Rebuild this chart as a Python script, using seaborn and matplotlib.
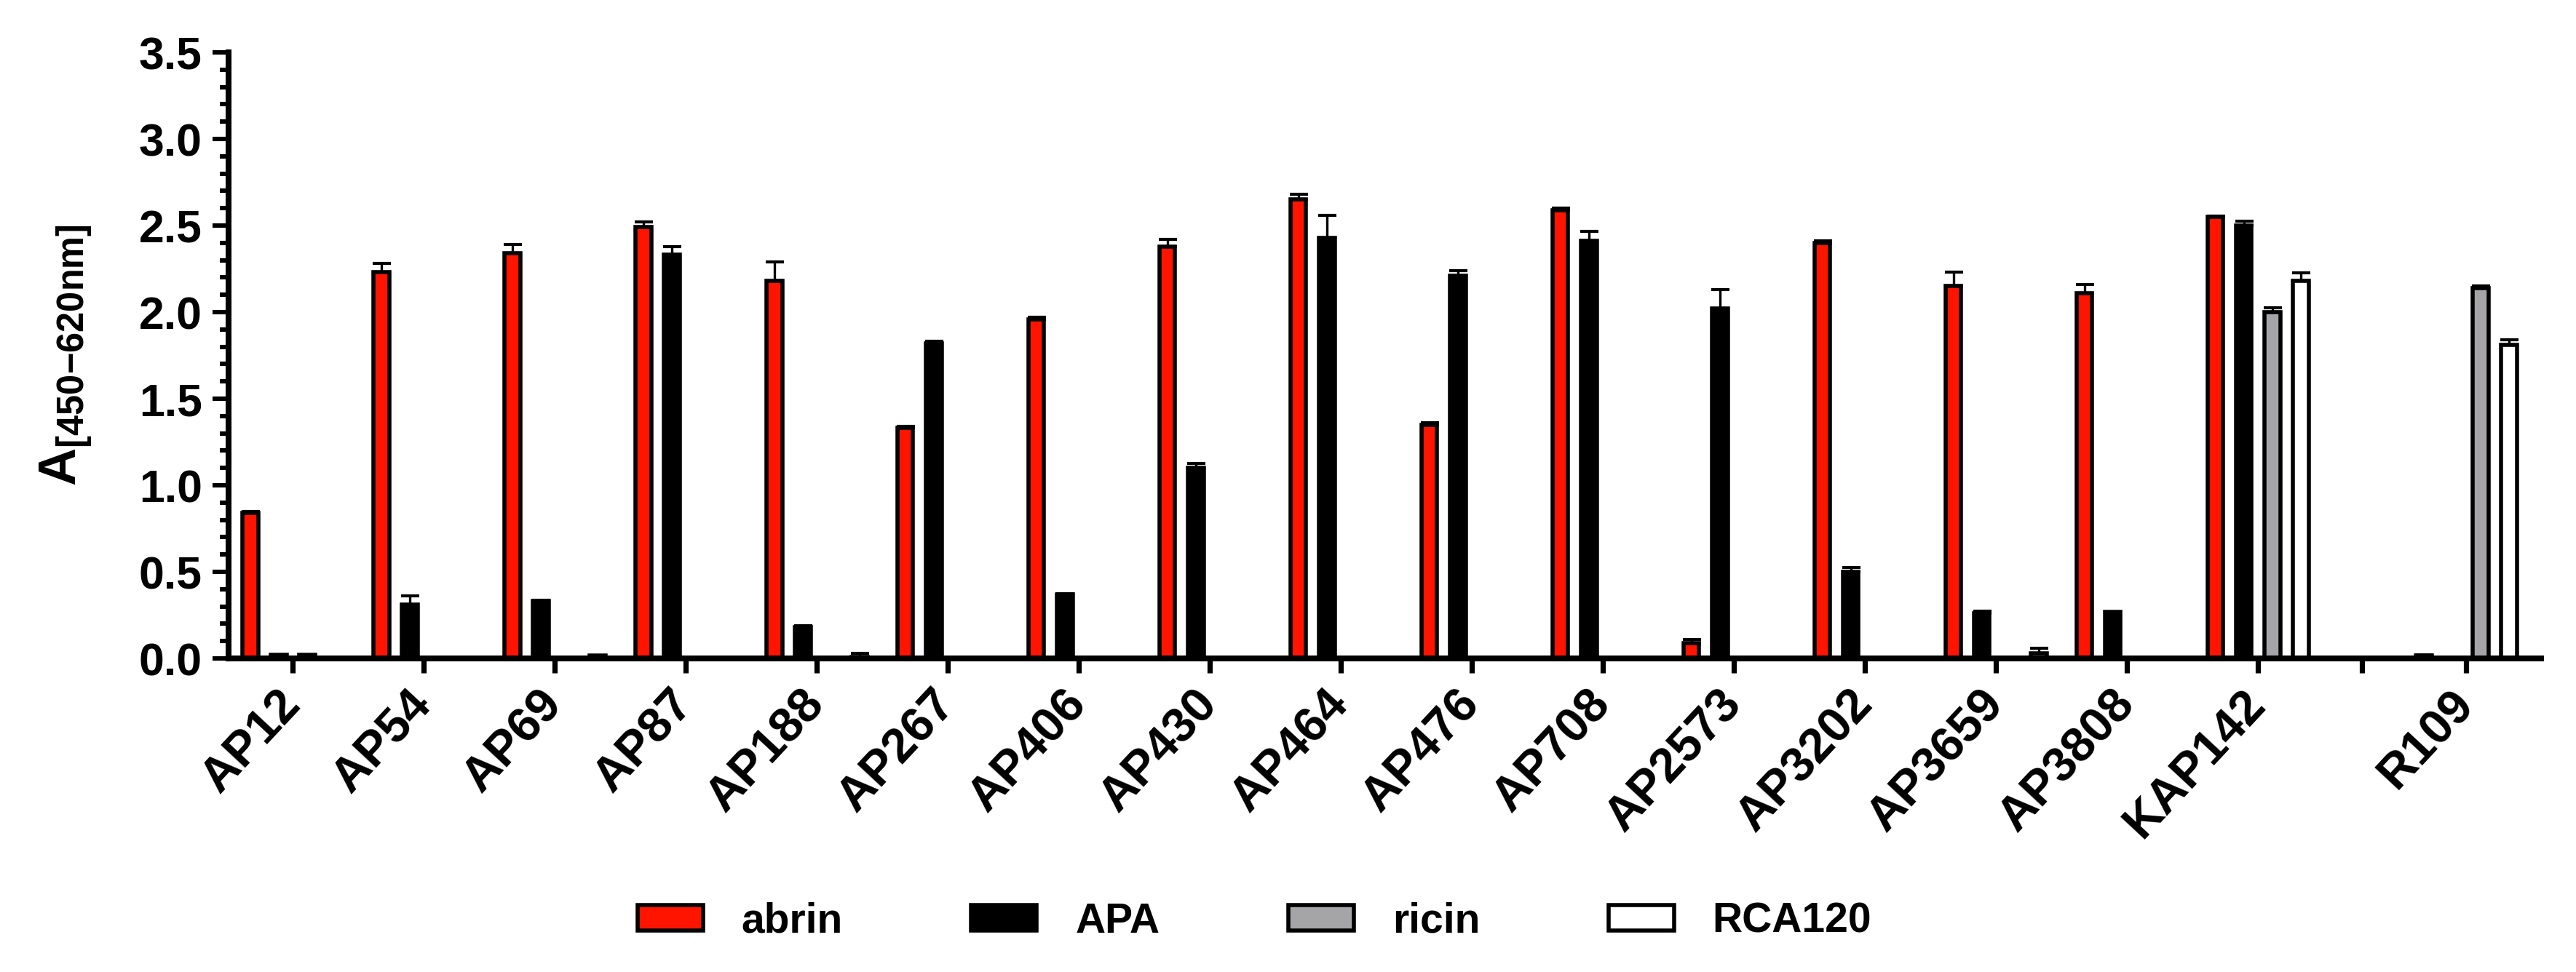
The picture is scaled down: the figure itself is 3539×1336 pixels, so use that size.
import numpy as np
import pandas as pd
import seaborn as sns
import matplotlib.pyplot as plt
from matplotlib.patches import Patch
from matplotlib.ticker import MultipleLocator

# antibodies on the x axis, toxins as hue
groups = ['AP12', 'AP54', 'AP69', 'AP87', 'AP188', 'AP267', 'AP406', 'AP430', 'AP464',
          'AP476', 'AP708', 'AP2573', 'AP3202', 'AP3659', 'AP3808', 'KAP142', 'R109']
toxins = ['abrin', 'APA', 'ricin', 'RCA120']

abrin = [0.84, 2.23, 2.34, 2.49, 2.18, 1.33, 1.96, 2.38, 2.65, 1.35, 2.59, 0.09, 2.40, 2.15, 2.11, 2.55, 0.015]
abrin_err = [0.01, 0.05, 0.05, 0.03, 0.11, 0.01, 0.01, 0.04, 0.03, 0.01, 0.01, 0.02, 0.01, 0.08, 0.05, 0.005, 0.005]
apa = [0.02, 0.31, 0.33, 2.33, 0.18, 1.82, 0.37, 1.10, 2.43, 2.21, 2.41, 2.02, 0.50, 0.26, 0.27, 2.50, 0.0]
apa_err = [0.0, 0.05, 0.005, 0.05, 0.01, 0.01, 0.005, 0.025, 0.13, 0.03, 0.055, 0.11, 0.025, 0.015, 0.0, 0.025, 0.0]
ricin = [0.02, 0, 0, 0, 0, 0, 0, 0, 0, 0, 0, 0, 0, 0, 0, 2.00, 2.14]
ricin_err = [0, 0, 0, 0, 0, 0, 0, 0, 0, 0, 0, 0, 0, 0, 0, 0.025, 0.01]
rca120 = [0, 0, 0.015, 0, 0.01, 0, 0, 0, 0, 0, 0, 0, 0, 0.03, 0, 2.18, 1.81]
rca120_err = [0, 0, 0, 0, 0.02, 0, 0, 0, 0, 0, 0, 0, 0, 0.03, 0, 0.045, 0.03]

values = {'abrin': abrin, 'APA': apa, 'ricin': ricin, 'RCA120': rca120}
errors = {'abrin': abrin_err, 'APA': apa_err, 'ricin': ricin_err, 'RCA120': rca120_err}
colors = {'abrin': '#FF1400', 'APA': '#000000', 'ricin': '#A5A5A8', 'RCA120': '#FFFFFF'}

# x positions: one unit per antibody, extra gap before the last one
pos = np.arange(len(groups), dtype=float)
pos[-1] += 0.59

df = pd.DataFrame({
    'pos': np.tile(pos, len(toxins)),
    'toxin': np.repeat(toxins, len(groups)),
    'value': np.concatenate([values[t] for t in toxins]),
})

sns.set_theme(style='ticks')
plt.rcParams['font.family'] = ['Liberation Sans', 'DejaVu Sans']
plt.rcParams['font.weight'] = 'bold'
plt.rcParams['text.color'] = 'black'
plt.rcParams['axes.labelcolor'] = 'black'
plt.rcParams['xtick.color'] = 'black'
plt.rcParams['ytick.color'] = 'black'
plt.rcParams['mathtext.fontset'] = 'custom'
plt.rcParams['mathtext.rm'] = 'Liberation Sans'
plt.rcParams['mathtext.bf'] = 'Liberation Sans:bold'

fig = plt.figure(figsize=(17.695, 6.68), dpi=200)
ax = fig.add_axes([0.0887, 0.3226, 0.8977, 0.6235])

sns.barplot(data=df, x='pos', y='value', hue='toxin', hue_order=toxins, palette=colors,
            native_scale=True, width=0.867, gap=0.44, edgecolor='black', linewidth=2.0,
            saturation=1, errorbar=None, legend=False, ax=ax)

# upward error bars on top of each bar
for tox, cont in zip(toxins, ax.containers):
    for bar in cont:
        cx = bar.get_x() + bar.get_width() / 2
        gi = int(np.argmin(np.abs(pos - cx)))
        err = errors[tox][gi]
        if err > 0:
            ax.errorbar(cx, bar.get_height(), yerr=[[0], [err]], fmt='none', ecolor='black',
                        elinewidth=1.2, capsize=4.5, capthick=1.5, zorder=3)

ticks = list(pos[:-1]) + [(pos[-2] + pos[-1]) / 2, pos[-1]]
labels = groups[:-1] + ['', groups[-1]]
ax.set_xticks(ticks)
ax.set_xticklabels(labels, rotation=47, ha='right', va='center', rotation_mode='anchor',
                   fontsize=24, fontweight='bold')
ax.set_xlim(-0.49, pos[-1] + 0.57)
ax.set_ylim(0, 3.5)
ax.yaxis.set_major_locator(MultipleLocator(0.5))
ax.yaxis.set_minor_locator(MultipleLocator(0.1))
ax.yaxis.set_major_formatter(plt.FormatStrFormatter('%.1f'))
for lab in ax.get_yticklabels():
    lab.set_fontsize(22.5)
    lab.set_fontweight('bold')

ax.tick_params(axis='y', which='major', length=8, width=2.2, pad=5)
ax.tick_params(axis='y', which='minor', length=4.2, width=2.2)
ax.tick_params(axis='x', length=7.2, width=2.6, pad=12)

sns.despine(ax=ax)
for s in ['left', 'bottom']:
    ax.spines[s].set_linewidth(2.9)
    ax.spines[s].set_color('black')

ax.set_xlabel('')
ax.set_ylabel(r'$\mathbf{A}_{\mathrm{[450{-}620nm]}}$', fontsize=26)
ax.yaxis.set_label_coords(-0.058, 0.5)

handles = [Patch(facecolor=colors[t], edgecolor='black', linewidth=2.0) for t in toxins]
fig.legend(handles, toxins, loc='center', bbox_to_anchor=(0.487, 0.052), ncol=4,
           frameon=False, fontsize=20.5, handlelength=1.58, handleheight=0.58,
           handletextpad=0.93, columnspacing=3.1)

fig.savefig('out.png', dpi=200)
